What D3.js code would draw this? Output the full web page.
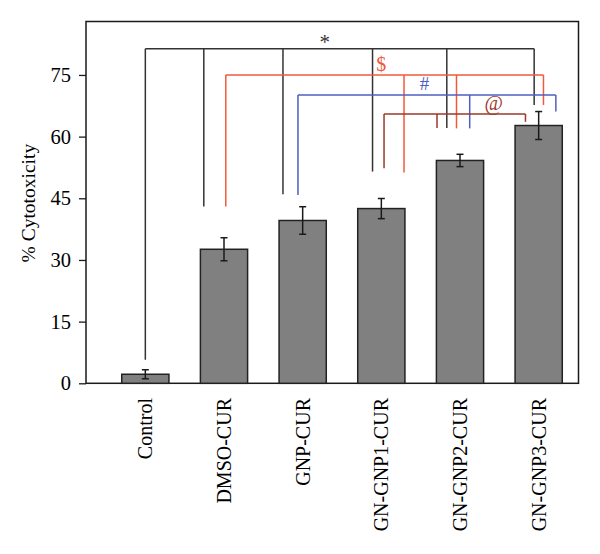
<!DOCTYPE html>
<html>
<head>
<meta charset="utf-8">
<script src="https://cdn.jsdelivr.net/npm/d3@7"></script>
<style>
  html, body { margin: 0; padding: 0; background: #fff; }
  svg { display: block; }
  text { font-family: "Liberation Serif", "DejaVu Serif", serif; }
</style>
</head>
<body>
<svg id="chart" width="600" height="554"></svg>
<script>
// ---- data ----
const categories = ["Control", "DMSO-CUR", "GNP-CUR", "GN-GNP1-CUR", "GN-GNP2-CUR", "GN-GNP3-CUR"];
const values = [2.2, 32.6, 39.6, 42.5, 54.2, 62.7];
const errors = [1.1, 2.8, 3.35, 2.45, 1.5, 3.4];
const yTicks = [0, 15, 30, 45, 60, 75];
const yTitle = "% Cytotoxicity";

// significance brackets: level (value), drops [category index, end value]
const sigBlack = { symbol: "*", level: 81.4, drops: [[0, 5.7], [1, 43.0], [2, 46.0], [3, 51.5], [4, 62.1], [5, 67.7]] };
const sigRed   = { symbol: "$", level: 75.0, drops: [[1, 43.0], [3, 51.3], [4, 62.0], [5, 67.7]] };
const sigBlue  = { symbol: "#", level: 70.1, drops: [[2, 45.8], [4, 62.0], [5, 66.1]] };
const sigBrown = { symbol: "@", level: 65.5, drops: [[3, 52.3], [4, 62.1], [5, 63.6]] };

// ---- layout / styles ----
const plot = { left: 86, right: 578.5, top: 21.5, bottom: 383.3 };
const svg = d3.select("#chart");

const x = d3.scaleBand().domain(categories).range([106, 578]).paddingInner(0.4).paddingOuter(0.2);
const y = d3.scaleLinear().domain([0, 88]).range([plot.bottom, plot.top]);
const cx = i => x(categories[i]) + x.bandwidth() / 2;

// bracket styles and horizontal offsets of each drop from bar center (px)
const bracketStyles = [
  { sig: sigBlack, color: "#333333", offsets: [0, -20.2, -19.7, -8.8, -13.2, -4.5], label: [2.28, 0], size: 21 },
  { sig: sigRed,   color: "#f2583a", offsets: [1.8, 22.7, -3.5, 4.8],               label: [3.0, -4], size: 20 },
  { sig: sigBlue,  color: "#4d5fc0", offsets: [-4.7, 9.7, 17.2],                    label: [3.55, -5], size: 19 },
  { sig: sigBrown, color: "#9c3828", offsets: [2.7, -23, -13.2],                    label: [4.43, -4], size: 20 }
];

// frame
svg.append("rect")
  .attr("x", plot.left).attr("y", plot.top)
  .attr("width", plot.right - plot.left).attr("height", plot.bottom - plot.top)
  .attr("fill", "none").attr("stroke", "#1a1a1a").attr("stroke-width", 1.5);

// y axis
const yAxis = svg.append("g")
  .attr("transform", `translate(${plot.left},0)`)
  .call(d3.axisLeft(y).tickValues(yTicks).tickSize(7).tickPadding(8).tickSizeOuter(0));
yAxis.select(".domain").remove();
yAxis.selectAll("line").attr("stroke", "#1a1a1a").attr("stroke-width", 1.3);
yAxis.selectAll("text").attr("font-size", 20.5).attr("fill", "#000")
  .attr("font-family", '"Liberation Serif", serif');

// y title
svg.append("text")
  .attr("transform", `translate(28,${(y(0) + y(75)) / 2 - 26}) rotate(-90)`)
  .attr("text-anchor", "middle").attr("dy", "0.35em")
  .attr("font-size", 19.5).attr("fill", "#000")
  .text(yTitle);

// x labels
svg.append("g").selectAll("text").data(categories).join("text")
  .attr("transform", (d, i) => `translate(${cx(i)},398) rotate(-90)`)
  .attr("text-anchor", "end").attr("dy", "0.35em")
  .attr("font-size", 20).attr("fill", "#000")
  .text(d => d);

// bars
svg.append("g").selectAll("rect").data(values).join("rect")
  .attr("x", (d, i) => x(categories[i]))
  .attr("y", d => y(d))
  .attr("width", x.bandwidth())
  .attr("height", d => y(0) - y(d))
  .attr("fill", "#808080").attr("stroke", "#222").attr("stroke-width", 1.5);

// error bars
const eb = svg.append("g").attr("stroke", "#1a1a1a").attr("stroke-width", 1.5);
values.forEach((v, i) => {
  const c = cx(i);
  eb.append("line").attr("x1", c).attr("x2", c).attr("y1", y(v + errors[i])).attr("y2", y(v - errors[i]));
  eb.append("line").attr("x1", c - 3.5).attr("x2", c + 3.5).attr("y1", y(v + errors[i])).attr("y2", y(v + errors[i]));
  eb.append("line").attr("x1", c - 3.5).attr("x2", c + 3.5).attr("y1", y(v - errors[i])).attr("y2", y(v - errors[i]));
});

// significance brackets
const step = x.step();
bracketStyles.forEach(b => {
  const g = svg.append("g").attr("stroke", b.color).attr("stroke-width", 1.5).attr("fill", "none");
  const xs = b.sig.drops.map((d, k) => cx(d[0]) + b.offsets[k]);
  const yl = y(b.sig.level);
  g.append("line").attr("x1", d3.min(xs)).attr("x2", d3.max(xs)).attr("y1", yl).attr("y2", yl);
  b.sig.drops.forEach((d, k) => {
    g.append("line").attr("x1", xs[k]).attr("x2", xs[k]).attr("y1", yl).attr("y2", y(d[1]));
  });
  svg.append("text")
    .attr("x", cx(0) + b.label[0] * step)
    .attr("y", yl + b.label[1])
    .attr("text-anchor", "middle")
    .attr("font-size", b.size).attr("fill", b.color)
    .text(b.sig.symbol);
});
</script>
</body>
</html>
